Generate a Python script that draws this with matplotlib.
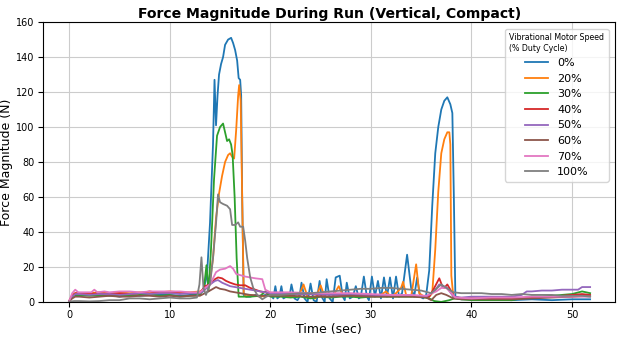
import matplotlib
matplotlib.use("Agg")
import matplotlib.pyplot as plt

# (time sec, force N), one list per motor speed
SPEED_0 = [(0, 0.5), (0.3, 3), (0.6, 4), (1, 3.5), (2, 4), (3, 3.5), (4, 4), (5, 3), (6, 4), (7, 3.5),
           (8, 4), (9, 4.5), (10, 4), (11, 3.5), (12, 4), (12.8, 4.5), (13.3, 6), (13.7, 15), (14.0, 45),
           (14.3, 90), (14.45, 127), (14.6, 101), (14.75, 118), (14.9, 130), (15.1, 136), (15.3, 140),
           (15.5, 147), (15.8, 150), (16.1, 151), (16.3, 148), (16.5, 144), (16.7, 138), (16.85, 128),
           (17.0, 127), (17.1, 118), (17.2, 60), (17.35, 4), (17.6, 3), (18, 3), (18.5, 4), (19, 3),
           (19.5, 4), (20, 4), (20.3, 2), (20.5, 9), (20.7, 2), (20.9, 3), (21.1, 9), (21.3, 2), (21.6, 3),
           (21.9, 3), (22.1, 10), (22.4, 2), (22.7, 1), (22.9, 3), (23.1, 11), (23.4, 2), (23.7, 0),
           (24.0, 10.5), (24.3, 1), (24.6, 0), (24.9, 12), (25.1, 3), (25.4, 0), (25.6, 13), (25.9, 2),
           (26.2, 0), (26.5, 14), (26.9, 15), (27.2, 3), (27.4, 1), (27.6, 11), (27.9, 2), (28.2, 3),
           (28.5, 9), (28.8, 2), (29.0, 3), (29.3, 14.5), (29.6, 3), (29.8, 1), (30.1, 14.5), (30.4, 3),
           (30.7, 12), (31.0, 2), (31.3, 14), (31.6, 3), (31.9, 14), (32.2, 2), (32.5, 14.5), (32.8, 3),
           (33.1, 5), (33.6, 27), (34.0, 8), (34.3, 3), (34.6, 14), (34.9, 3), (35.2, 2), (35.5, 4),
           (35.8, 18), (36.1, 55), (36.4, 85), (36.7, 100), (37.0, 110), (37.3, 115), (37.6, 117),
           (37.9, 113), (38.1, 108), (38.25, 60), (38.4, 3), (38.6, 2), (39, 1.5), (40, 1.5), (42, 1.5),
           (44, 1), (46, 1.5), (48, 1), (50, 1.5), (51.8, 1.5)]
SPEED_20 = [(0, 0.5), (0.3, 4), (0.6, 5), (1, 4.5), (2, 5), (3, 5.5), (4, 5), (5, 5.5), (6, 5), (7, 5.5),
            (8, 5), (9, 5.5), (10, 6), (11, 5.5), (12, 5.5), (13, 6), (13.6, 8), (14.0, 12), (14.3, 25),
            (14.6, 48), (14.9, 62), (15.2, 72), (15.5, 80), (15.8, 84), (16.0, 85), (16.2, 83), (16.4, 82),
            (16.6, 98), (16.8, 118), (16.9, 124), (17.05, 115), (17.2, 60), (17.35, 5), (17.6, 3), (18, 4),
            (19, 3), (20, 4), (21, 4.5), (22, 3), (22.8, 3), (23.3, 10), (23.7, 3), (24.5, 2), (25.0, 9.5),
            (25.4, 3), (26.2, 3), (26.8, 9), (27.2, 4), (28, 4), (29, 3), (30, 4), (31, 4), (31.5, 6),
            (32, 3), (32.5, 5), (33.0, 8), (33.2, 11.5), (33.5, 4), (34.0, 3), (34.5, 21.5), (34.8, 5),
            (35.3, 3), (35.8, 3), (36.1, 5), (36.4, 30), (36.7, 63), (37.0, 85), (37.3, 93), (37.6, 97),
            (37.8, 97), (37.9, 90), (38.0, 15), (38.2, 3), (39, 2), (40, 2), (42, 1.5), (44, 2), (46, 2.5),
            (48, 3), (50, 3), (51.8, 3.5)]
SPEED_30 = [(0, 0.5), (0.3, 3), (0.6, 4), (1, 4), (2, 3.5), (3, 4), (4, 3.5), (5, 4), (6, 3.5), (7, 4),
            (8, 4.5), (9, 3.5), (10, 4), (11, 3), (12, 3.5), (13, 4), (13.4, 8), (13.65, 21), (13.85, 6),
            (14.1, 30), (14.4, 70), (14.7, 95), (15.0, 100), (15.3, 102), (15.5, 97), (15.7, 92), (15.9, 93),
            (16.1, 90), (16.25, 84), (16.45, 60), (16.65, 25), (16.85, 3), (17.2, 3), (18, 3), (19, 3.5),
            (19.5, 6), (20, 3), (21, 3), (22, 2.5), (23, 3), (24, 2), (25, 3), (26, 2.5), (27, 3), (28, 3),
            (29, 2.5), (30, 3), (31, 3), (32, 3), (33, 3), (34, 3), (35, 3), (35.8, 2), (36.3, 0.5), (37, 0),
            (37.8, 1), (38.3, 2), (39, 1.5), (40, 1), (42, 1), (44, 1), (45, 2), (46, 3), (47, 3), (48, 3.5),
            (49, 4), (50, 4.5), (51, 6), (51.8, 5)]
SPEED_40 = [(0, 0.5), (0.3, 3.5), (0.6, 5), (1, 5), (2, 4.5), (3, 5), (4, 4.5), (5, 5), (6, 4.5), (7, 5),
            (8, 6), (9, 5), (10, 5.5), (11, 5), (12, 5), (13, 5), (13.5, 9), (14.0, 10), (14.5, 13),
            (14.8, 14), (15.2, 13.5), (15.6, 12), (16, 11), (16.5, 10), (17, 9.5), (17.5, 9.5), (18, 8),
            (19, 6), (20, 5), (21, 5), (22, 5), (23, 4.5), (24, 4.5), (25, 4), (26, 4.5), (27, 4), (28, 4),
            (29, 4), (30, 3.5), (31, 4), (32, 3.5), (33, 3.5), (34, 3.5), (35, 3), (35.8, 3), (36.3, 8),
            (36.8, 13.5), (37.1, 9), (37.3, 8), (37.6, 10), (37.9, 7), (38.3, 3), (39, 2), (40, 2), (42, 2),
            (44, 2), (46, 2.5), (48, 3), (50, 4), (51, 4.5), (51.8, 4)]
SPEED_50 = [(0, 0.5), (0.3, 3), (0.6, 4.5), (1, 4.5), (2, 4), (3, 4.5), (4, 4.5), (5, 4), (6, 4.5), (7, 5),
            (8, 4.5), (9, 5), (10, 5), (11, 4.5), (12, 5), (13, 5), (13.5, 7), (14, 10), (14.5, 12),
            (14.8, 12.5), (15.2, 11), (15.6, 10), (16, 9), (16.5, 8.5), (17, 8), (18, 7), (19, 6), (20, 5),
            (22, 4.5), (24, 4.5), (26, 4), (28, 4), (30, 4), (32, 3.5), (34, 3.5), (35.5, 3), (36.3, 6),
            (36.8, 10), (37.2, 9), (37.6, 8), (38.2, 3), (39, 2.5), (40, 3), (42, 3), (44, 3), (45, 4),
            (45.5, 6), (46, 6), (47, 6.5), (48, 6.5), (49, 7), (50, 7), (50.6, 7), (51, 8.5), (51.8, 8.5)]
SPEED_60 = [(0, 0.3), (0.3, 2), (0.6, 3), (1, 3), (2, 2.5), (3, 3), (4, 3.5), (5, 3), (6, 3), (7, 3.5),
            (8, 3.5), (9, 3), (10, 3.5), (11, 3), (12, 3.5), (13, 3.5), (13.5, 5), (14, 6.5), (14.6, 8.5),
            (15.0, 7.5), (15.5, 7), (16, 6), (17, 5), (18, 4), (19, 3.5), (20, 3.5), (22, 3.5), (24, 3),
            (26, 3), (28, 3.5), (30, 3), (32, 3), (34, 3), (35.5, 2.5), (36.0, 1), (36.5, 4), (37, 5),
            (37.5, 4), (38.2, 2), (39, 1.5), (40, 1.5), (42, 1.5), (44, 1.5), (46, 2), (48, 2.5), (50, 3),
            (51, 3.5), (51.8, 3.5)]
SPEED_70 = [(0, 0.5), (0.3, 5), (0.6, 7), (0.9, 5.5), (1.5, 5.5), (2.2, 5.5), (2.5, 7), (2.8, 5.5),
            (3.5, 6), (4, 5.5), (5, 6), (6, 6), (7, 5.5), (8, 6), (9, 6), (10, 6), (11, 6), (12, 5.5),
            (13, 5.5), (13.5, 8), (14, 10), (14.6, 17), (15.0, 18.5), (15.5, 19), (16.0, 20.5), (16.3, 19),
            (16.6, 16), (17.5, 14.5), (18.5, 13.5), (19.2, 13), (19.5, 7), (20, 5.5), (22, 5.5), (24, 5),
            (26, 5), (28, 5), (30, 4.5), (32, 4), (34, 4), (35.5, 3.5), (36.5, 6), (37.0, 8), (37.5, 8),
            (38.0, 5), (38.4, 2.5), (40, 2), (42, 2.5), (44, 2.5), (46, 3), (48, 3), (50, 3), (51.8, 3)]
SPEED_100 = [(0, 0.2), (0.5, 0.5), (1, 0.5), (2, 0.3), (3, 0.5), (4, 1), (5, 1), (6, 2), (7, 2), (8, 1.5),
             (9, 2), (10, 2.5), (11, 2), (12, 2), (12.7, 2.5), (12.95, 10), (13.15, 25.5), (13.35, 8),
             (13.6, 4), (14.0, 10), (14.3, 25), (14.6, 45), (14.8, 61.5), (15.0, 57), (15.3, 56), (15.7, 55),
             (16.0, 53), (16.2, 44), (16.5, 44), (16.8, 45.5), (17.0, 43), (17.3, 43), (17.5, 35),
             (17.7, 25), (18.0, 14), (18.3, 8), (18.7, 4), (19.2, 1.5), (19.6, 3), (20, 4), (21, 4),
             (22, 4.5), (23, 5), (24, 5), (25, 5.5), (26, 6), (27, 6.5), (28, 7), (29, 7.5), (30, 7.5),
             (31, 8), (32, 8), (33, 7.5), (34, 7), (35, 6.5), (36, 5), (36.6, 8), (37.0, 10), (37.5, 8),
             (38.2, 5.5), (39, 5), (40, 5), (41, 5), (42, 4.5), (43, 4.5), (44, 4), (45, 4.5), (46, 4),
             (47, 4), (48, 4), (49, 3.5), (50, 3.5), (51, 3.5), (51.8, 3)]

LABELS = ["0%", "20%", "30%", "40%", "50%", "60%", "70%", "100%"]
SERIES = [SPEED_0, SPEED_20, SPEED_30, SPEED_40, SPEED_50, SPEED_60, SPEED_70, SPEED_100]

fig = plt.figure(figsize=(6.24, 3.4), dpi=100)
ax = fig.add_axes([0.069, 0.112, 0.917, 0.823])

for label, pts in zip(LABELS, SERIES):
    t = [p[0] for p in pts]
    v = [p[1] for p in pts]
    ax.plot(t, v, lw=1.3, label=label)

ax.set_xlim(-2.6, 54.3)
ax.set_ylim(0, 160)
ax.set_xticks(range(0, 51, 10))
ax.set_yticks(range(0, 161, 20))
ax.tick_params(labelsize=7, pad=2.5)
ax.grid(True, color="#cccccc", lw=0.8)
ax.set_axisbelow(True)
ax.set_xlabel("Time (sec)", fontsize=9, labelpad=2)
ax.set_ylabel("Force Magnitude (N)", fontsize=9, labelpad=2)
ax.set_title("Force Magnitude During Run (Vertical, Compact)", fontsize=10.1, fontweight="bold", pad=3)

leg = ax.legend(title="Vibrational Motor Speed\n(% Duty Cycle)", loc="upper right",
                fontsize=8, title_fontsize=5.7, handlelength=2.1, borderaxespad=0.6)
leg.get_title().set_multialignment("left")

fig.savefig("out.png", dpi=100)
